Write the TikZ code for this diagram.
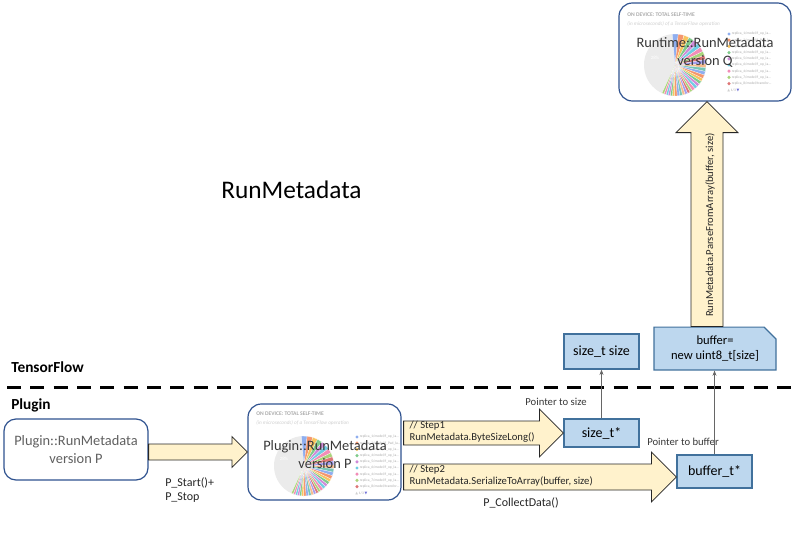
\documentclass[tikz,border=0pt]{standalone}
\usepackage{fontspec}
\setmainfont{Carlito}
\newfontfamily\symf{DejaVu Sans}
\usetikzlibrary{calc,shapes.misc,arrows.meta}
\definecolor{yfill}{HTML}{FFF2CC}
\definecolor{bfill}{HTML}{BDD7EE}
\definecolor{bdraw}{HTML}{41719C}
\definecolor{rdraw}{HTML}{2F528F}
\definecolor{lgray}{HTML}{606060}
\definecolor{dgray}{HTML}{383838}
\definecolor{piegray}{HTML}{EBEBEB}
\definecolor{pietxt}{HTML}{ABABAB}
\definecolor{piesubtxt}{HTML}{CFCFCF}
\definecolor{pc0}{HTML}{8FAEEF}
\definecolor{pc1}{HTML}{F4966F}
\definecolor{pc2}{HTML}{F8C45E}
\definecolor{pc3}{HTML}{7FCB8A}
\definecolor{pc4}{HTML}{CF8AD8}
\definecolor{pc5}{HTML}{6FCDE3}
\definecolor{pc6}{HTML}{F28DB7}
\definecolor{pc7}{HTML}{A9D47A}
\definecolor{pc8}{HTML}{DE7676}
\definecolor{pc9}{HTML}{A49EEE}
\definecolor{pc10}{HTML}{F6BB8E}
\definecolor{pc11}{HTML}{78C6B6}
\newcommand\harrow[4]{%
  \draw[yarrow] ($(#1)+(0,-#3)$) -- ($(#2)+(-#4,-#3)$) -- ($(#2)+(-#4,-#4)$) -- (#2)
    -- ($(#2)+(-#4,#4)$) -- ($(#2)+(-#4,#3)$) -- ($(#1)+(0,#3)$) -- cycle;}
\newcommand\pieshot[8]{%
  \coordinate (#1c) at (#2,#3);
  \node[pietitle, anchor=west] (#1t) at (#5,#6) {ON DEVICE: TOTAL SELF-TIME};
  \node[piesub, anchor=west] (#1s) at (#5,{#6+9}) {(in microseconds) of a TensorFlow operation};
  \fill[piegray] (#1c) -- ++(95:#4) arc[start angle=95,end angle=245,radius=#4] -- cycle;
  \node[font=\fontsize{3.6}{4}\selectfont, text=white, inner sep=0pt] (#1p) at ($(#1c)+(-20,-7)$) {28\%};
  \gdef\pa{95}%
  \foreach \sz [count=\i] in {11,11,10,10,9,9,9,8,8,8,7,7,7,7,6,6,6,6,6,5,5,5,5,5,5,5,4,4,4,4,4,4}{%
    \pgfmathsetmacro\pb{\pa-\sz}%
    \pgfmathtruncatemacro\ci{mod(\i-1,12)}%
    \filldraw[fill=pc\ci, draw=white, line width=0.15pt] (#1c) -- ++(\pa:#4) arc[start angle=\pa,end angle=\pb,radius=#4] -- cycle;
    \xdef\pa{\pb}%
  }
  \foreach \lt [count=\i from 0] in {{replica\_1/model/f\_op\_la\ldots},{replica\_2/model/f\_Pad\_la\ldots},{replica\_3/model/f\_op\_la\ldots},{replica\_4/model/f\_op\_la\ldots},{replica\_5/model/f\_op\_la\ldots},{replica\_6/model/f\_op\_la\ldots},{replica\_4/model/f\_op\_la\ldots},{replica\_7/model/f\_op\_la\ldots},{replica\_8/model/transfor\ldots}}{%
    \fill[pc\i] (#7,{#8+\i*6.2}) circle[radius=1.3pt];
    \node[pieleg, anchor=west] (#1l\i) at ({#7+2.5},{#8+\i*6.2}) {\lt};
  }
  \node[pieleg, anchor=west] (#1n) at ({#7-2},{#8+8*6.2+7}) {{\symf\textcolor{piesubtxt}{▲}} \textcolor{pietxt}{1/3} {\symf\textcolor[HTML]{7070D8}{▼}}};
}
\begin{document}
\begin{tikzpicture}[x=0.75pt,y=-0.75pt,
  rbox/.style={draw=rdraw, line width=0.9pt, rounded corners=10pt, fill=white, inner sep=0pt},
  bbox/.style={draw=bdraw, line width=0.9pt, fill=bfill, inner sep=2pt, text=black, font=\fontsize{10.5}{12}\selectfont, align=center},
  yarrow/.style={draw=black!85, line width=0.6pt, fill=yfill},
  conn/.style={draw=gray!80!black, line width=0.6pt, -{Stealth[length=4pt,width=3pt]}},
  boxtext/.style={font=\fontsize{10.8}{13.5}\selectfont, align=center, text=dgray, inner sep=0pt},
  steptext/.style={font=\fontsize{8}{9}\selectfont, text=black!85, inner sep=1pt, align=left},
  lbl/.style={font=\fontsize{8}{9}\selectfont, text=dgray, inner sep=0pt},
  lblnine/.style={font=\fontsize{9}{10.5}\selectfont, text=black!85, inner sep=0pt},
  headtext/.style={font=\bfseries\fontsize{11.5}{13}\selectfont, inner sep=0pt},
  pietitle/.style={font=\bfseries\fontsize{4.2}{5}\selectfont, text=pietxt, inner sep=0pt},
  piesub/.style={font=\itshape\fontsize{3.9}{5}\selectfont, text=piesubtxt, inner sep=0pt},
  pieleg/.style={font=\fontsize{2.7}{3}\selectfont, text=pietxt, inner sep=0pt}
]
\useasboundingbox (0,0) rectangle (795,550);
\fill[white] (0,0) rectangle (795,550);

% top runtime box with chart screenshot
\node[rbox, minimum width=129pt, minimum height=73.5pt] (topbox) at (705,52) {};
\pieshot{tp}{675}{65}{23.25pt}{627}{15}{729}{34}
\node[boxtext] (toplabel) at (705,52) {Runtime::RunMetadata\\version Q};

% title
\node[font=\fontsize{19}{22}\selectfont, anchor=west, inner sep=0pt] (title) at (221,190) {RunMetadata};

% TensorFlow / Plugin
\node[headtext, anchor=west] (tf) at (11,367) {TensorFlow};
\node[headtext, anchor=west] (plg) at (11,405) {Plugin};
\coordinate (dl) at (7,387);
\coordinate (dr) at (795,387);
\draw[line width=2.25pt, dash pattern=on 10.5pt off 7pt] (dl) -- (dr);

% blue boxes
\node[bbox, minimum width=56.25pt, minimum height=26.25pt] (sizebox) at (601.5,351.5) {size\_t size};
\node[bbox, chamfered rectangle, chamfered rectangle corners=north east,
      chamfered rectangle xsep=4.5pt, chamfered rectangle ysep=4.5pt,
      minimum width=91.5pt, minimum height=30.75pt, font=\fontsize{9.4}{11.3}\selectfont] (bufbox) at (715,348.5) {buffer=\\new uint8\_t[size]};
\node[bbox, minimum width=56.25pt, minimum height=21pt] (sizeptr) at (601.5,433) {size\_t*};
\node[bbox, minimum width=56.25pt, minimum height=24.75pt] (bufptr) at (714.5,471.5) {buffer\_t*};

% labels of connectors
\node[lbl] (ptrsize) at (556,402) {Pointer to size};
\node[lbl] (ptrbuf) at (683,442) {Pointer to buffer};

\draw[conn] (sizeptr.north) -- (sizeptr.north |- sizebox.south);
\draw[conn] (bufptr.north) -- (bufptr.north |- bufbox.south);

% up arrow
\coordinate (uptip) at ($(topbox.south)+(2,0)$);
\coordinate (upbase) at (uptip |- bufbox.north);
\draw[yarrow] ($(upbase)+(-16,0)$) -- ($(uptip)+(-16,31)$) -- ($(uptip)+(-31,31)$) -- (uptip)
   -- ($(uptip)+(31,31)$) -- ($(uptip)+(16,31)$) -- ($(upbase)+(16,0)$) -- cycle;
\node[steptext, rotate=90] (parse) at (710,225) {RunMetadata.ParseFromArray(buffer, size)};

% left plugin box
\node[rbox, minimum width=108pt, minimum height=45.75pt, rounded corners=9pt,
      font=\fontsize{10.8}{13}\selectfont, align=center, text=lgray] (leftbox) at (76,449.5) {Plugin::RunMetadata\\version P};

% middle plugin box with chart screenshot
\node[rbox, minimum width=114.75pt, minimum height=72pt] (midbox) at (324.5,452) {};
\pieshot{md}{304}{466}{22.5pt}{256}{414}{357}{437}
\node[boxtext] (midlabel) at (325,454.5) {Plugin::RunMetadata\\version P};

% block arrows
\coordinate (a0s) at (leftbox.east |- midbox.west);
\harrow{a0s}{midbox.west}{8}{15.5}
\coordinate (a1s) at ($(midbox.east |- sizeptr.west)+(2,0)$);
\harrow{a1s}{sizeptr.west}{12}{24}
\coordinate (a2t) at ($(bufptr.west)+(0,5.5)$);
\coordinate (a2s) at ($(midbox.east |- a2t)+(2,0)$);
\harrow{a2s}{a2t}{13}{25}

\node[steptext, anchor=west] (s1txt) at (408,432) {// Step1\\RunMetadata.ByteSizeLong()};
\node[steptext, anchor=west] (s2txt) at (408,475.5) {// Step2\\RunMetadata.SerializeToArray(buffer, size)};

\node[lblnine, anchor=west, align=left] (pstart) at (165,490) {P\_Start()+\\P\_Stop};
\node[lblnine] (pcollect) at (521,503) {P\_CollectData()};
\end{tikzpicture}
\end{document}
